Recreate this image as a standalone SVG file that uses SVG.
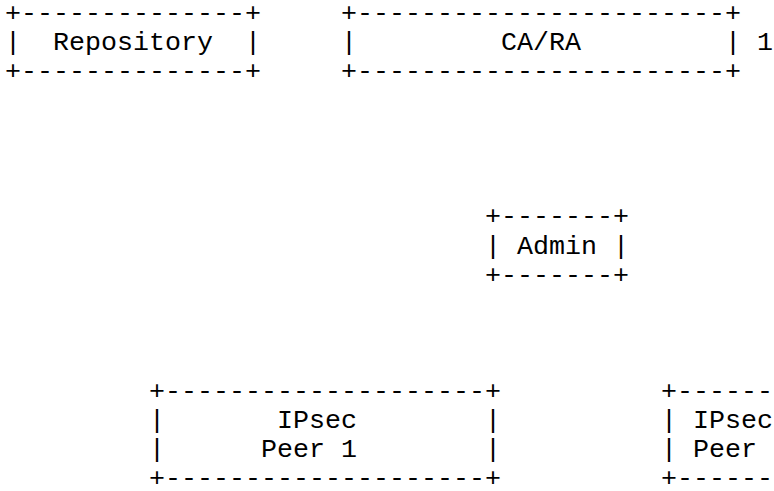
<svg xmlns="http://www.w3.org/2000/svg" width="774" height="491" viewBox="0 0 774 491">
<style>
text{font-family:"Liberation Mono","DejaVu Sans Mono",monospace;font-size:26.67px;fill:#000;white-space:pre}
</style>
<rect width="774" height="491" fill="#fff"/>
<g id="connectors"></g>
<g id="repository">
<text x="5" y="21" xml:space="preserve">+--------------+</text>
<text x="5" y="50" xml:space="preserve">|  Repository  |</text>
<text x="5" y="79" xml:space="preserve">+--------------+</text>
</g>
<g id="ca-ra">
<text x="341" y="21" xml:space="preserve">+-----------------------+</text>
<text x="341" y="50" xml:space="preserve">|         CA/RA         | 1</text>
<text x="341" y="79" xml:space="preserve">+-----------------------+</text>
</g>
<g id="admin">
<text x="485" y="224.4" xml:space="preserve">+-------+</text>
<text x="485" y="253.5" xml:space="preserve">| Admin |</text>
<text x="485" y="282.5" xml:space="preserve">+-------+</text>
</g>
<g id="peer1">
<text x="149" y="398.8" xml:space="preserve">+--------------------+</text>
<text x="149" y="427.8" xml:space="preserve">|       IPsec        |</text>
<text x="149" y="456.9" xml:space="preserve">|      Peer 1        |</text>
<text x="149" y="486" xml:space="preserve">+--------------------+</text>
</g>
<g id="peer2">
<text x="661" y="398.8" xml:space="preserve">+------</text>
<text x="661" y="427.8" xml:space="preserve">| IPsec</text>
<text x="661" y="456.9" xml:space="preserve">| Peer</text>
<text x="661" y="486" xml:space="preserve">+------</text>
</g>
</svg>
